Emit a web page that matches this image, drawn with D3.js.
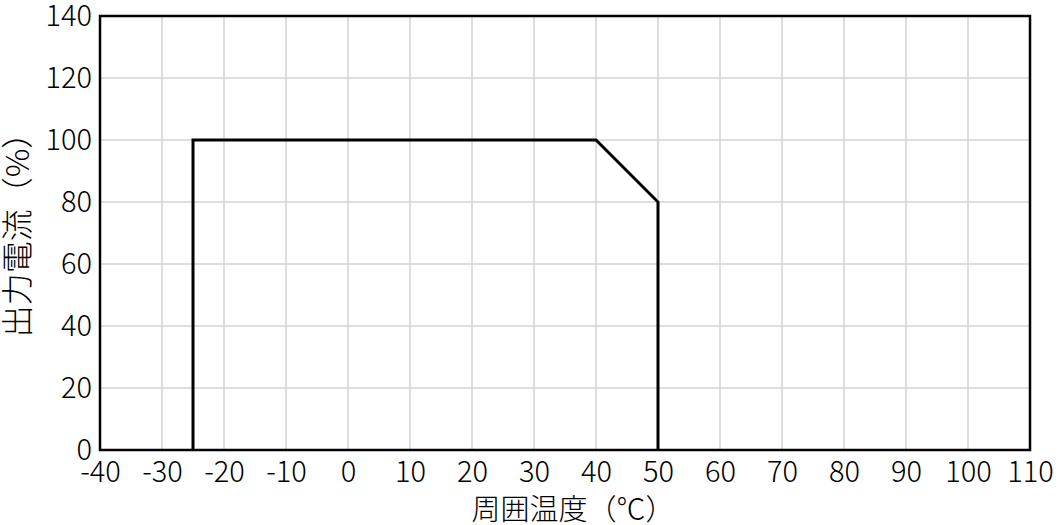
<!DOCTYPE html>
<html><head><meta charset="utf-8">
<script src="https://cdn.jsdelivr.net/npm/d3@7"></script>
<style>body{margin:0;background:#fff}svg{display:block}text{font-family:"Noto Sans CJK JP","Noto Sans",sans-serif;fill:#000}</style>
</head><body>
<svg id="c" width="1058" height="525"></svg>
<script>
const xTicks = [-40,-30,-20,-10,0,10,20,30,40,50,60,70,80,90,100,110];
const yTicks = [0,20,40,60,80,100,120,140];
const temps = [-25,-25,40,50,50];
const currents = [0,100,100,80,0];
const xTitle = "周囲温度（℃）";
const yTitle = "出力電流（%）";

const svg = d3.select("#c");
const L=100, R=1030, T=16, B=450;
const FS = 29;
const x = d3.scaleLinear().domain([-40,110]).range([L,R]);
const y = d3.scaleLinear().domain([0,140]).range([B,T]);

svg.append("g").selectAll("line").data(xTicks.slice(1,-1)).join("line")
  .attr("x1",d=>x(d)).attr("x2",d=>x(d)).attr("y1",T).attr("y2",B)
  .attr("stroke","#d3d3d3").attr("stroke-width",1.5);
svg.append("g").selectAll("line").data(yTicks.slice(1,-1)).join("line")
  .attr("y1",d=>y(d)).attr("y2",d=>y(d)).attr("x1",L).attr("x2",R)
  .attr("stroke","#d3d3d3").attr("stroke-width",1.5);

const xAxis = svg.append("g").attr("transform",`translate(0,${B})`)
  .call(d3.axisBottom(x).tickValues(xTicks).tickSize(0).tickPadding(11).tickFormat(d=>String(d)));
xAxis.select(".domain").remove();
xAxis.selectAll("text").attr("font-size",FS).attr("font-family",'"Noto Sans CJK JP"').attr("font-weight",300);
const yAxis = svg.append("g").attr("transform",`translate(${L},0)`)
  .call(d3.axisLeft(y).tickValues(yTicks).tickSize(0).tickPadding(8).tickFormat(d=>String(d)));
yAxis.select(".domain").remove();
yAxis.selectAll("text").attr("font-size",FS).attr("font-family",'"Noto Sans CJK JP"').attr("font-weight",300);

svg.append("rect").attr("x",L).attr("y",T).attr("width",R-L).attr("height",B-T)
  .attr("fill","none").attr("stroke","#000").attr("stroke-width",2.5);

const line = d3.line().x(d=>x(d[0])).y(d=>y(d[1]));
svg.append("path").datum(temps.map((t,i)=>[t,currents[i]]))
  .attr("d",line).attr("fill","none").attr("stroke","#000").attr("stroke-width",3);

svg.append("text").attr("x",(L+R)/2+8).attr("y",520).attr("text-anchor","middle")
  .attr("font-size",FS).attr("font-weight",300).text(xTitle);
svg.append("text").attr("transform",`translate(29,${(T+B)/2-6}) rotate(-90)`)
  .attr("text-anchor","middle").attr("font-size",32).attr("font-weight",300).text(yTitle);
</script>
</body></html>
